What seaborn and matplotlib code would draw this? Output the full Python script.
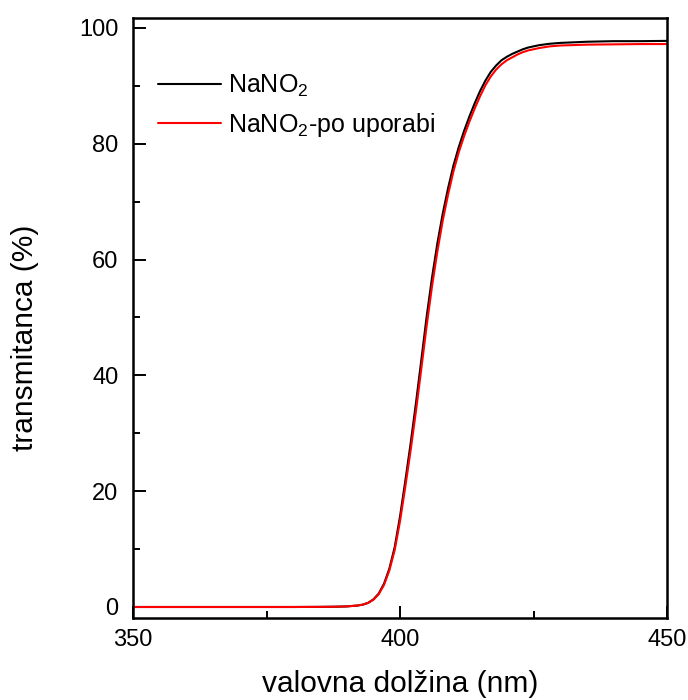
import pandas as pd
import matplotlib
matplotlib.use("Agg")
import matplotlib.pyplot as plt
import seaborn as sns
from matplotlib.ticker import MultipleLocator

sns.set_style("ticks")
plt.rcParams["font.family"] = ["Liberation Sans", "DejaVu Sans"]
plt.rcParams["mathtext.fontset"] = "custom"
plt.rcParams["mathtext.rm"] = "Liberation Sans"
plt.rcParams["mathtext.it"] = "Liberation Sans:italic"
plt.rcParams["text.color"] = "black"
plt.rcParams["axes.labelcolor"] = "black"
plt.rcParams["xtick.color"] = "black"
plt.rcParams["ytick.color"] = "black"

# wavelength (nm) and transmittance (%)
wavelength = [350, 360, 370, 380, 385, 388, 390,
              392, 393, 394, 395, 396, 397, 398, 399,
              400, 401, 402, 403, 404, 405, 406, 407, 408, 409,
              410, 411, 412, 413, 414, 415, 416, 417, 418, 419,
              420, 421, 422, 423, 424,
              426, 428, 430, 435, 440, 445, 450]
nano2 = [0.0, 0.0, 0.0, 0.0, 0.02, 0.05, 0.1,
         0.25, 0.4, 0.7, 1.3, 2.3, 4.0, 6.6, 10.3,
         15.6, 21.8, 28.3, 35.3, 42.7, 50.2, 56.9, 62.8, 67.9, 72.3,
         76.2, 79.4, 82.2, 84.7, 87.0, 89.1, 90.9, 92.4, 93.5, 94.4,
         95.0, 95.5, 95.9, 96.3, 96.6,
         97.0, 97.25, 97.4, 97.6, 97.7, 97.7, 97.75]
nano2_used = [0.0, 0.0, 0.0, 0.0, 0.02, 0.05, 0.1,
              0.25, 0.4, 0.7, 1.25, 2.2, 3.8, 6.3, 9.8,
              14.8, 20.8, 27.1, 33.9, 41.2, 48.6, 55.4, 61.4, 66.7, 71.2,
              75.2, 78.5, 81.3, 83.8, 86.1, 88.2, 90.1, 91.6, 92.8, 93.7,
              94.4, 94.9, 95.4, 95.8, 96.1,
              96.5, 96.8, 96.95, 97.1, 97.15, 97.2, 97.2]

spectra = pd.DataFrame({"wl": wavelength, "fresh": nano2, "used": nano2_used})

fig = plt.figure(figsize=(6.88, 7.0), dpi=100)
ax = fig.add_axes([133 / 688, 82 / 700, 534 / 688, 600 / 700])

sns.lineplot(data=spectra, x="wl", y="fresh", color="black", lw=1.5,
             label="NaNO$_2$", ax=ax)
sns.lineplot(data=spectra, x="wl", y="used", color="#ff0000", lw=1.5,
             label="NaNO$_2$-po uporabi", ax=ax)

ax.set_xlim(350, 450)
ax.set_ylim(-1.9, 101.7)
ax.xaxis.set_major_locator(MultipleLocator(50))
ax.xaxis.set_minor_locator(MultipleLocator(25))
ax.yaxis.set_major_locator(MultipleLocator(20))
ax.yaxis.set_minor_locator(MultipleLocator(10))
ax.tick_params(which="both", direction="in", width=1.4, color="black")
ax.tick_params(which="major", length=9)
ax.tick_params(which="minor", length=5)
ax.tick_params(axis="x", which="major", labelsize=17, pad=8)
ax.tick_params(axis="y", which="major", labelsize=17, pad=10.5)
for s in ax.spines.values():
    s.set_linewidth(1.8)
    s.set_color("black")

ax.set_xlabel("valovna dolžina (nm)", fontsize=21.5)
ax.set_ylabel("transmitanca (%)", fontsize=21.5)
ax.xaxis.set_label_coords(0.5, -0.087)
ax.yaxis.set_label_coords(-0.1757, 0.4667)

ax.legend(loc="upper left", bbox_to_anchor=(0.047, 0.908), frameon=False,
          fontsize=18, borderaxespad=0, borderpad=0, handlelength=2.5,
          handletextpad=0.3, labelspacing=0.45)

fig.savefig("out.png", dpi=100)
